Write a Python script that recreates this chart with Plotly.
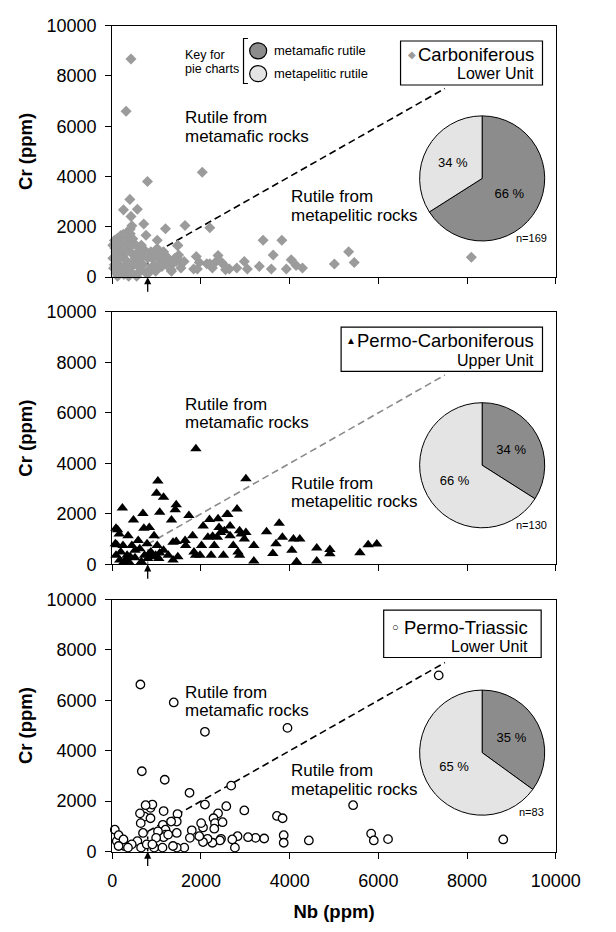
import plotly.graph_objects as go

FONT = "Liberation Sans, Arial, Helvetica, sans-serif"
W, H = 616, 932

# ---------------------------------------------------------------------------
# Rutile chemistry: Nb vs Cr (ppm)
# ---------------------------------------------------------------------------
# Carboniferous, Lower Unit
carb_nb = [423, 313, 795, 2030, 398, 254, 567, 423, 711, 762, 1201, 1641, 2200, 1015,
           1472, 3401, 3824, 3629, 5330, 5456, 5008, 8096, 4035, 3925, 4145, 4289, 3587,
           3316, 2978, 3046, 2809, 2640, 2513, 2386, 2343, 2259, 2132, 1963, 1895, 1836,
           1920, 2200, 2470, 2555, 1540, 1497, 1413, 1328, 1286, 1159, 1117, 1032, 905,
           948, 990, 821,
           50, 157, 264, 371, 86, 229, 443, 586, 121, 300, 514, 50, 193, 407, 550, 86,
           264, 443, 621, 336, 657, 157, 14, 729, 800, 693, 871, 764, 943, 1050, 1157,
           1264, 1336, 1479, 1443, 1550, 1121, 979, 1229, 1371, 1621, 1014, 871, 193,
           336, 407, 443, 407, 464, 14, 121, 371, 550, 657,
           100, 250, 350, 480, 200, 320, 30, 600, 700, 520, 380, 120, 250, 60, 280]
carb_cr = [8677, 6600, 3806, 4170, 3092, 2676, 2702, 2416, 2117, 1663, 1923, 2052, 1962, 1468,
           1247, 1468, 1468, 883, 1013, 585, 520, 792, 688, 325, 468, 364, 325,
           429, 624, 325, 364, 325, 494, 857, 624, 364, 533, 585, 818, 325,
           325, 533, 585, 299, 624, 883, 753, 299, 533, 948, 624, 364, 753,
           494, 1078, 169,
           1462, 1398, 1268, 1139, 1009, 945, 945, 1009, 751, 686, 751, 492, 427, 362, 492, 168,
           104, 168, 233, 1527, 1268, 1203, 751, 1074, 751, 492, 362, 168, 945, 751, 1009,
           751, 233, 1268, 621, 362, 427, 233, 492, 556, 621, 1139, 1009, 1656,
           1786, 1915, 2044, 1721, 1527, 1268, 39, 39, 39, 298,
           600, 850, 550, 600, 250, 300, 350, 700, 850, 1300, 1350, 1550, 1700, 1150, 1050]

# Permo-Carboniferous, Upper Unit
pc_nb = [1886, 3014, 1029, 1000, 1157, 1071, 1443, 1421, 1336, 1729, 2814, 2607, 229, 479,
         693, 714, 836, 943, 121, 157, 357, 586, 71, 243, 443, 621, 786, 1014, 193, 336,
         514, 264, 371, 729, 871, 1071, 1157, 1264, 1371, 1479, 1443, 1643, 1657, 1814,
         1843, 1879, 1979, 2014, 2050, 2193, 2264, 2386, 2407, 2443, 2371, 2586, 2529,
         2657, 2657, 2729, 2871, 2907, 3014, 2979, 2836, 2871, 3193, 3193, 3479, 3621,
         3764, 3836, 3693, 4050, 4086, 4229, 4157, 2157, 2300, 2229, 2507, 1371,
         4611, 4907, 4907, 4611, 5584, 5770, 5964,
         86, 171, 300, 407, 514, 657, 800, 836, 907, 979, 1050, 102, 85]
pc_cr = [4580, 3393, 3302, 2812, 2657, 2064, 2361, 2167, 1754, 1935, 2193, 1974, 2232, 1754,
         2012, 1432, 1458, 1135, 1367, 1200, 1135, 942, 813, 748, 748, 619, 813, 748, 490, 361,
         258, 103, 103, 361, 490, 452, 555, 361, 168, 297, 903, 942, 748, 1135,
         490, 361, 361, 748, 1522, 1780, 1109, 1806, 1458, 1264, 1071, 1974, 1329,
         1522, 1135, 748, 1329, 1200, 1264, 1006, 490, 361, 748, 129, 1290, 426,
         1625, 1071, 813, 555, 1006, 1006, 103, 1071, 748, 361, 361, 877,
         650, 585, 416, 130, 455, 779, 805,
         361, 168, 168, 297, 555, 103, 232, 426, 297, 361, 232, 780, 1430]

# Permo-Triassic, Lower Unit
pt_nb = [635, 1387, 2090, 3951, 668, 1184, 2682, 1743, 7360, 5431, 2090, 2572, 2978, 3714,
         3841, 5837, 5897, 6218, 8815, 4433, 3866, 3866, 3426, 3232, 3063, 2826, 2766, 2707,
         2453, 2428, 2259, 2149, 2047, 1963, 2047, 1794, 1751, 1472, 1455, 2386, 2284,
         2318, 2487, 2005, 1624, 1455, 1370, 1159, 1142, 1201, 1201, 1159, 1032, 990, 948,
         1133, 863, 905, 753, 728, 643, 626, 694, 567, 440, 271, 102, 59, 144, 254, 144,
         355, 651, 778, 905, 1455, 1328, 1261, 2301, 863]
pt_cr = [6630, 5918, 4753, 4908, 3186, 2849, 2616, 2331, 6993, 1839, 1865, 1800, 1632, 1412,
         1321, 712, 440, 492, 479, 440, 648, 350, 518, 544, 570, 609, 155, 479,
         505, 440, 350, 505, 376, 609, 958, 842, 544, 1489, 738, 1515, 1321,
         1127, 1165, 1127, 155, 155, 220, 1606, 1062, 868, 673, 570, 803, 544, 155,
         155, 1735, 1865, 1839, 1386, 1127, 1515, 738, 414, 285, 220, 414, 868, 648, 479, 220,
         155, 155, 285, 285, 1191, 1191, 673, 907, 1321]

# Proportion of grains per source lithology (%)
PIE_CLASSES = ["metamafic rutile", "metapelitic rutile"]
carb_pie = [66, 34]
pc_pie = [34, 66]
pt_pie = [35, 65]
n_grains = [169, 130, 83]

units = ["Carboniferous", "Permo-Carboniferous", "Permo-Triassic"]
subunits = ["Lower Unit", "Upper Unit", "Lower Unit"]

TICKS = [0, 2000, 4000, 6000, 8000, 10000]
TICK_LABELS = ["0", "2000", "4000", "6000", "8000", "10000"]

# Discrimination: Cr > Nb -> metamafic, Cr < Nb -> metapelitic (valid above 800 ppm Nb)
NB_THRESHOLD = 800
LINE_END = 7500

# ---------------------------------------------------------------------------
# Layout geometry (pixels / fractions of each plot box)
# ---------------------------------------------------------------------------
PX_X0, PX_X1 = 112.7, 579.0
PANEL_PX = [(16.0, 273.0), (308.5, 566.5), (602.5, 860.0)]
PIE_REL_X = (0.693, 0.975)
PIE_REL_Y = (0.140, 0.645)

PIE_COLORS = ["#8c8c8c", "#e4e4e4"]
X_DOM = [PX_X0 / W, PX_X1 / W]

panels = [
    dict(nb=carb_nb, cr=carb_cr, pie=carb_pie,
         marker=dict(symbol="diamond", size=8.5, color="#9b9b9b", line=dict(width=0)),
         line_color="black",
         key="\u25c6", key_color="#9b9b9b", key_size=10, key_x=0.676,
         box=(0.650, 0.970, 0.764, 0.939), text_r=0.955, row1=0.887, row2=0.808),
    dict(nb=pc_nb, cr=pc_cr, pie=pc_pie,
         marker=dict(symbol="triangle-up", size=10, color="black", line=dict(width=0)),
         line_color="#8a8a8a",
         key="\u25b2", key_color="black", key_size=10, key_x=0.539,
         box=(0.516, 0.970, 0.764, 0.940), text_r=0.955, row1=0.888, row2=0.808),
    dict(nb=pt_nb, cr=pt_cr, pie=pt_pie,
         marker=dict(symbol="circle", size=8.5, color="white", line=dict(width=1.3, color="black")),
         line_color="black",
         key="\u25cb", key_color="black", key_size=11, key_x=0.639,
         box=(0.612, 0.967, 0.770, 0.958), text_r=0.942, row1=0.891, row2=0.812),
]

fig = go.Figure()
layout = dict(
    width=W, height=H, margin=dict(l=0, r=0, t=0, b=0),
    paper_bgcolor="white", plot_bgcolor="rgba(0,0,0,0)",
    showlegend=False, font=dict(family=FONT, color="black"),
)
annotations = []
shapes = []


def dom_text(xa, ya, x, y, text, size, xanchor="left", yanchor="middle", color="black"):
    return dict(x=x, y=y, xref=f"{xa} domain", yref=f"{ya} domain", text=text,
                showarrow=False, xanchor=xanchor, yanchor=yanchor,
                font=dict(size=size, color=color))


for i, p in enumerate(panels):
    k = i + 1
    xa, ya = ("x", "y") if k == 1 else (f"x{k}", f"y{k}")
    top, bot = PANEL_PX[i]
    y_dom = [1 - bot / H, 1 - top / H]

    layout["xaxis" if k == 1 else f"xaxis{k}"] = dict(
        domain=X_DOM, anchor=ya, range=[0, 10000], tickvals=TICKS, ticktext=TICK_LABELS,
        showline=True, mirror=True, linecolor="black", linewidth=1.3,
        ticks="outside", ticklen=6, tickwidth=1.3, tickcolor="black",
        showgrid=False, zeroline=False, showticklabels=(k == 3),
        tickfont=dict(size=18), ticklabelstandoff=7, fixedrange=True,
        title=dict(text="<b>Nb (ppm)</b>", font=dict(size=18.5), standoff=14) if k == 3 else None,
    )
    layout["yaxis" if k == 1 else f"yaxis{k}"] = dict(
        domain=y_dom, anchor=xa, range=[0, 10000], tickvals=TICKS, ticktext=TICK_LABELS,
        showline=True, mirror=True, linecolor="black", linewidth=1.3,
        ticks="outside", ticklen=6, tickwidth=1.3, tickcolor="black",
        showgrid=False, zeroline=False, tickfont=dict(size=18), ticklabelstandoff=5,
        fixedrange=True,
        title=dict(text="<b>Cr (ppm)</b>", font=dict(size=18.5), standoff=8),
    )

    # discrimination lines
    fig.add_trace(go.Scatter(
        x=[NB_THRESHOLD, LINE_END], y=[NB_THRESHOLD, LINE_END], xaxis=xa, yaxis=ya,
        mode="lines", line=dict(color=p["line_color"], width=1.6, dash="7px,4px"),
        hoverinfo="skip"))
    fig.add_trace(go.Scatter(
        x=[NB_THRESHOLD, NB_THRESHOLD], y=[0, NB_THRESHOLD], xaxis=xa, yaxis=ya,
        mode="lines", line=dict(color=p["line_color"], width=1.5, dash="dot"),
        hoverinfo="skip"))

    # analyses
    fig.add_trace(go.Scatter(
        x=p["nb"], y=p["cr"], xaxis=xa, yaxis=ya, mode="markers",
        marker=p["marker"], cliponaxis=False, name=units[i]))

    # arrow marking the Nb threshold
    annotations.append(dict(
        x=NB_THRESHOLD, y=0, xref=xa, yref=ya, text="", showarrow=True,
        ax=0, ay=16, arrowhead=2, arrowsize=1.1, arrowwidth=1.3, arrowcolor="black"))

    # field labels
    annotations.append(dom_text(xa, ya, 0.160, 0.633, "Rutile from", 17))
    annotations.append(dom_text(xa, ya, 0.160, 0.561, "metamafic rocks", 17))
    annotations.append(dom_text(xa, ya, 0.399, 0.322, "Rutile from", 17))
    annotations.append(dom_text(xa, ya, 0.399, 0.247, "metapelitic rocks", 17))

    # unit label box with its symbol
    bx0, bx1, by0, by1 = p["box"]
    shapes.append(dict(type="rect", xref=f"{xa} domain", yref=f"{ya} domain",
                       x0=bx0, x1=bx1, y0=by0, y1=by1, fillcolor="white",
                       line=dict(color="black", width=1.2)))
    annotations.append(dom_text(xa, ya, p["key_x"], p["row1"], p["key"], p["key_size"],
                                xanchor="center", color=p["key_color"]))
    annotations.append(dom_text(xa, ya, p["text_r"], p["row1"], units[i], 18.5,
                                xanchor="right"))
    annotations.append(dom_text(xa, ya, p["text_r"], p["row2"], subunits[i], 16,
                                xanchor="right"))

    # pie chart of source lithologies
    fig.add_trace(go.Pie(
        values=p["pie"], labels=PIE_CLASSES, sort=False, direction="clockwise", rotation=0,
        marker=dict(colors=PIE_COLORS, line=dict(color="black", width=1)),
        texttemplate="%{value} %", textposition="inside", insidetextorientation="horizontal",
        textfont=dict(size=13, color="black", family=FONT),
        hoverinfo="label+value", showlegend=False,
        domain=dict(
            x=[X_DOM[0] + r * (X_DOM[1] - X_DOM[0]) for r in PIE_REL_X],
            y=[y_dom[0] + r * (y_dom[1] - y_dom[0]) for r in PIE_REL_Y]),
    ))
    annotations.append(dom_text(xa, ya, 0.945, 0.155, f"n={n_grains[i]}", 11,
                                xanchor="center"))

# key for the pie charts (top panel)
annotations.append(dom_text("x", "y", 0.159, 0.882, "Key for", 12.5))
annotations.append(dom_text("x", "y", 0.159, 0.826, "pie charts", 12.5))
for j, (cls, yk) in enumerate(zip(PIE_CLASSES, [0.900, 0.809])):
    shapes.append(dict(
        type="circle", xref="x domain", yref="y domain",
        xsizemode="pixel", ysizemode="pixel", xanchor=0.329, yanchor=yk,
        x0=-8.5, x1=8.5, y0=-8, y1=8,
        fillcolor=PIE_COLORS[j], line=dict(color="black", width=1.2)))
    annotations.append(dom_text("x", "y", 0.3605, yk, cls, 13))
shapes.append(dict(
    type="path", xref="x domain", yref="y domain",
    path="M 0.306,0.949 L 0.296,0.949 L 0.296,0.770 L 0.306,0.770",
    line=dict(color="black", width=1.2)))

layout["annotations"] = annotations
layout["shapes"] = shapes
fig.update_layout(**layout)
fig.write_html("out.html")
